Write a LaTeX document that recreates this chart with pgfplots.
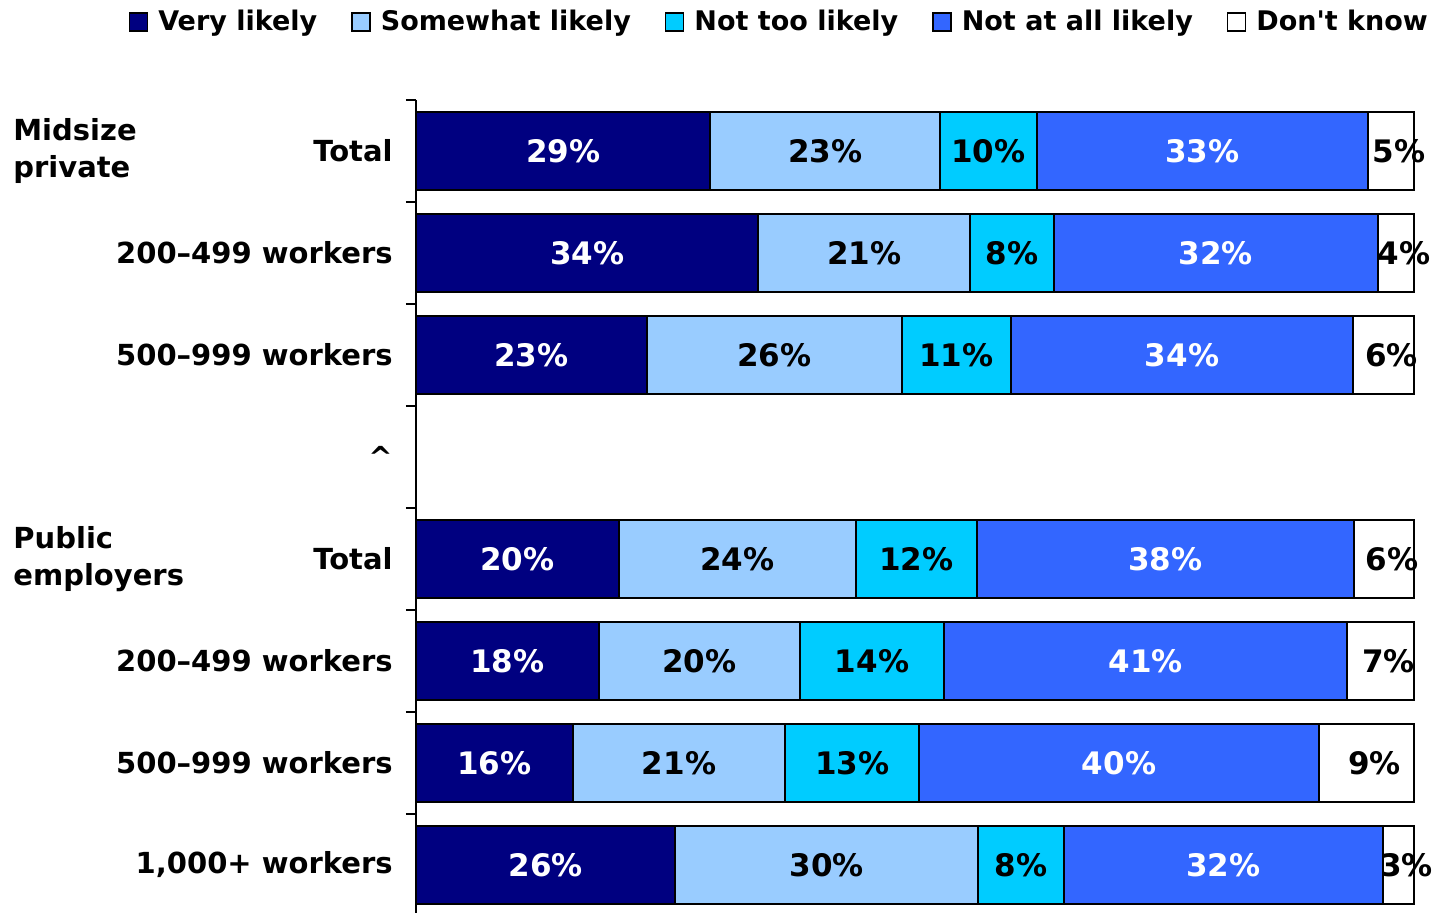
\documentclass[border=0pt]{standalone}
\usepackage{pgfplots}
\pgfplotsset{compat=1.18}
\usepackage{pgfplotstable}
\usepackage{fontspec}
\setmainfont{DejaVu Sans}[Ligatures=TeXOff]
\definecolor{c1}{HTML}{000080}
\definecolor{c2}{HTML}{99CCFF}
\definecolor{c3}{HTML}{00CCFF}
\definecolor{c4}{HTML}{3366FF}
\definecolor{c5}{HTML}{FFFFFF}
\pgfplotstableread{
y  v1   l1 v2   l2 v3   l3 v4   l4 v5  l5
0  29.5 29 23.0 23 9.7  10 33.2 33 4.6 5
1  34.3 34 21.2 21 8.4  8  32.5 32 3.6 4
2  23.1 23 25.6 26 10.9 11 34.3 34 6.1 6
4  20.3 20 23.8 24 12.1 12 37.8 38 6.0 6
5  18.3 18 20.2 20 14.4 14 40.4 41 6.7 7
6  15.7 16 21.3 21 13.4 13 40.1 40 9.5 9
7  26.0 26 30.3 30 8.6  8  32.0 32 3.1 3
}\datatable
\begin{document}
\begin{tikzpicture}
\useasboundingbox (-208pt,1.5pt) rectangle (517pt,458pt);
\begin{axis}[
  at={(0,0)}, anchor=south west,
  xbar stacked, bar width=39pt,
  scale only axis, width=499pt, height=408pt,
  xmin=0, xmax=100, ymin=-0.5, ymax=7.5, y dir=reverse,
  clip=false,
  axis x line=none, axis y line*=left,
  axis line style={line width=1pt, -, black},
  ytick={0,...,7},
  yticklabels={Total, 200–499 workers, 500–999 workers, \textasciicircum, Total, 200–499 workers, 500–999 workers, {1,000+ workers}},
  yticklabel style={font=\bfseries\fontsize{14.5}{17}\selectfont, anchor=east, inner sep=0pt, xshift=-11.5pt},
  major tick length=0pt,
  minor ytick={-0.5,0.5,...,7.5}, minor tick length=5pt, tick align=outside,
  minor tick style={line width=1pt, black},
  nodes near coords={\pgfplotspointmeta\%},
  point meta=explicit symbolic,
  every node near coord/.append style={font=\bfseries\fontsize{15.5}{17}\selectfont, anchor=center},
  legend image code/.code={\draw[#1,line width=0.8pt] (0pt,-4.5pt) rectangle (9pt,4.5pt);},
  legend style={at={(0.365,1.0956)}, anchor=center, draw=none, fill=none,
    legend columns=-1, font=\bfseries\fontsize{13.5}{16}\selectfont,
    /tikz/every odd column/.append style={column sep=3pt},
    /tikz/every even column/.append style={column sep=15pt}},
]
\addplot[fill=c1, draw=black, line width=1pt, every node near coord/.append style={text=white}] table[x=v1, y=y, meta=l1] {\datatable};
\addplot[fill=c2, draw=black, line width=1pt, every node near coord/.append style={text=black}] table[x=v2, y=y, meta=l2] {\datatable};
\addplot[fill=c3, draw=black, line width=1pt, every node near coord/.append style={text=black}] table[x=v3, y=y, meta=l3] {\datatable};
\addplot[fill=c4, draw=black, line width=1pt, every node near coord/.append style={text=white}] table[x=v4, y=y, meta=l4] {\datatable};
\addplot[fill=c5, draw=black, line width=1pt, every node near coord/.append style={text=black, xshift=4pt}] table[x=v5, y=y, meta=l5] {\datatable};
\legend{Very likely, Somewhat likely, Not too likely, Not at all likely, Don't know}
\node[anchor=west, align=left, inner sep=0pt, xshift=-201.5pt, font=\bfseries\fontsize{14.5}{18.5}\selectfont] at (axis cs:0,0) {Midsize\\private};
\node[anchor=west, align=left, inner sep=0pt, xshift=-201.5pt, font=\bfseries\fontsize{14.5}{18.5}\selectfont] at (axis cs:0,4) {Public\\employers};
\end{axis}
\end{tikzpicture}
\end{document}
